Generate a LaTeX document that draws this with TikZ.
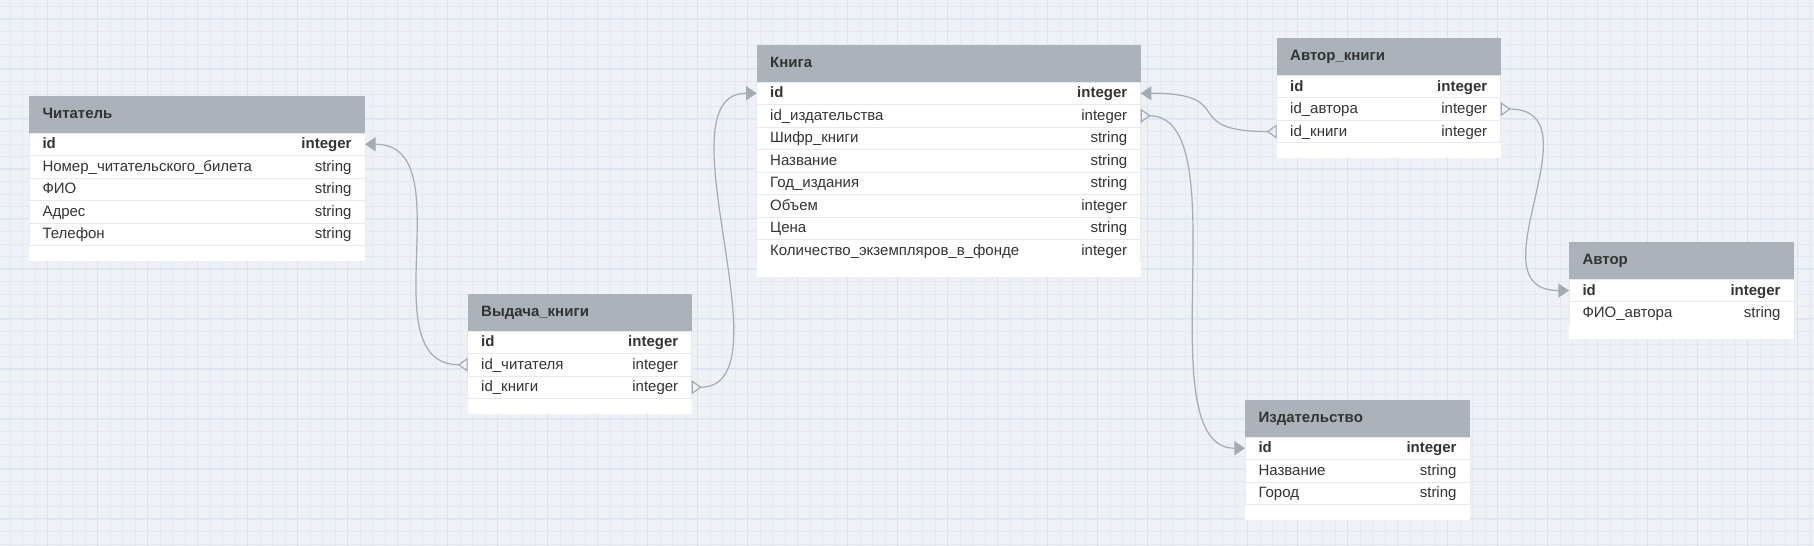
\documentclass[tikz,border=0pt]{standalone}
\usepackage{fontspec}
\setmainfont{Liberation Sans}
\usepackage{xcolor}
\usetikzlibrary{positioning, arrows.meta}

\definecolor{canvas}{HTML}{EEF1F5}
\definecolor{gridminor}{HTML}{E2E9F3}
\definecolor{gridmajor}{HTML}{D9E3F2}
\definecolor{headgray}{HTML}{ABB2B9}
\definecolor{rowline}{HTML}{E6E9ED}
\definecolor{txtdark}{HTML}{333333}
\definecolor{linkgray}{HTML}{A4ABB2}

\begin{document}
\begin{tikzpicture}[
    x=0.75pt, y=0.75pt,
    node distance=0pt,
    head/.style={rectangle, fill=headgray, text=txtdark, anchor=north west, outer sep=0pt,
        inner xsep=10.125pt, inner ysep=0pt, minimum height=27.75pt, text width=#1,
        text height=8.5pt, text depth=2.5pt, font=\fontsize{11.25}{13.5}\selectfont\bfseries},
    fld/.style={rectangle, fill=white, draw=rowline, line width=0.75pt, text=txtdark, outer sep=0pt,
        inner xsep=10.125pt, inner ysep=0pt, minimum height=16.875pt, text width=#1,
        text height=8.8pt, text depth=1.8pt, font=\fontsize{11.25}{13.5}\selectfont},
    key/.style={fld=#1, font=\fontsize{11.25}{13.5}\selectfont\bfseries},
    pad/.style={rectangle, fill=white, outer sep=0pt, inner sep=0pt, minimum height=11.25pt, minimum width=#1},
    link/.style={draw=linkgray, line width=0.9pt},
    rel/.style={link, {Triangle[open, reversed, length=7.5pt, width=10.5pt]}-{Triangle[length=8pt, width=10.5pt]}}
]

% canvas with grid
\useasboundingbox (0,0) rectangle (1814,-546);
\fill[canvas] (0,0) rectangle (1814,-546);
\begin{scope}[shift={(10,-6.7)}]
\draw[gridminor, line width=0.5pt, xstep=9.375pt, ystep=9.375pt] (-20,20) grid (1820,-560);
\end{scope}
\begin{scope}[shift={(47.7,-18.3)}]
\draw[gridmajor, line width=0.6pt, xstep=37.5pt, ystep=37.5pt] (-60,30) grid (1780,-540);
\end{scope}

% Читатель
\node[head=231.75pt] (chit) at (29,-96) {Читатель};
\node[key=231.75pt, below=of chit] (chit-id) {id\hfill integer};
\node[fld=231.75pt, below=of chit-id] (chit-nom) {Номер\_читательского\_билета\hfill string};
\node[fld=231.75pt, below=of chit-nom] (chit-fio) {ФИО\hfill string};
\node[fld=231.75pt, below=of chit-fio] (chit-adr) {Адрес\hfill string};
\node[fld=231.75pt, below=of chit-adr] (chit-tel) {Телефон\hfill string};
\node[pad=252pt, below=of chit-tel] (chit-end) {};

% Выдача_книги
\node[head=147.75pt] (vyd) at (467.7,-294) {Выдача\_книги};
\node[key=147.75pt, below=of vyd] (vyd-id) {id\hfill integer};
\node[fld=147.75pt, below=of vyd-id] (vyd-chit) {id\_читателя\hfill integer};
\node[fld=147.75pt, below=of vyd-chit] (vyd-kn) {id\_книги\hfill integer};
\node[pad=168pt, below=of vyd-kn] (vyd-end) {};

% Книга
\node[head=267.75pt] (kn) at (756.7,-45) {Книга};
\node[key=267.75pt, below=of kn] (kn-id) {id\hfill integer};
\node[fld=267.75pt, below=of kn-id] (kn-izd) {id\_издательства\hfill integer};
\node[fld=267.75pt, below=of kn-izd] (kn-shif) {Шифр\_книги\hfill string};
\node[fld=267.75pt, below=of kn-shif] (kn-naz) {Название\hfill string};
\node[fld=267.75pt, below=of kn-naz] (kn-god) {Год\_издания\hfill string};
\node[fld=267.75pt, below=of kn-god] (kn-obj) {Объем\hfill integer};
\node[fld=267.75pt, below=of kn-obj] (kn-cena) {Цена\hfill string};
\node[fld=267.75pt, below=of kn-cena] (kn-kol) {Количество\_экземпляров\_в\_фонде\hfill integer};
\node[pad=288pt, below=of kn-kol] (kn-end) {};

% Автор_книги
\node[head=147.75pt] (ak) at (1276.7,-38.3) {Автор\_книги};
\node[key=147.75pt, below=of ak] (ak-id) {id\hfill integer};
\node[fld=147.75pt, below=of ak-id] (ak-avt) {id\_автора\hfill integer};
\node[fld=147.75pt, below=of ak-avt] (ak-kn) {id\_книги\hfill integer};
\node[pad=168pt, below=of ak-kn] (ak-end) {};

% Автор
\node[head=148.5pt] (avt) at (1569,-242.3) {Автор};
\node[key=148.5pt, below=of avt] (avt-id) {id\hfill integer};
\node[fld=148.5pt, below=of avt-id] (avt-fio) {ФИО\_автора\hfill string};
\node[pad=168.75pt, below=of avt-fio] (avt-end) {};

% Издательство
\node[head=148.5pt] (izd) at (1245,-400) {Издательство};
\node[key=148.5pt, below=of izd] (izd-id) {id\hfill integer};
\node[fld=148.5pt, below=of izd-id] (izd-naz) {Название\hfill string};
\node[fld=148.5pt, below=of izd-naz] (izd-gor) {Город\hfill string};
\node[pad=168.75pt, below=of izd-gor] (izd-end) {};

% Relations
\draw[rel] (vyd-chit.west) .. controls +(-100,0) and +(100,0) .. (chit-id.east);
\draw[rel] (vyd-kn.east) .. controls +(100,0) and +(-100,0) .. (kn-id.west);
\draw[rel] (ak-kn.west) .. controls +(-100,0) and +(100,0) .. (kn-id.east);
\draw[rel] (kn-izd.east) .. controls +(100,0) and +(-100,0) .. (izd-id.west);
\draw[rel] (ak-avt.east) .. controls +(100,0) and +(-100,0) .. (avt-id.west);

\end{tikzpicture}
\end{document}
